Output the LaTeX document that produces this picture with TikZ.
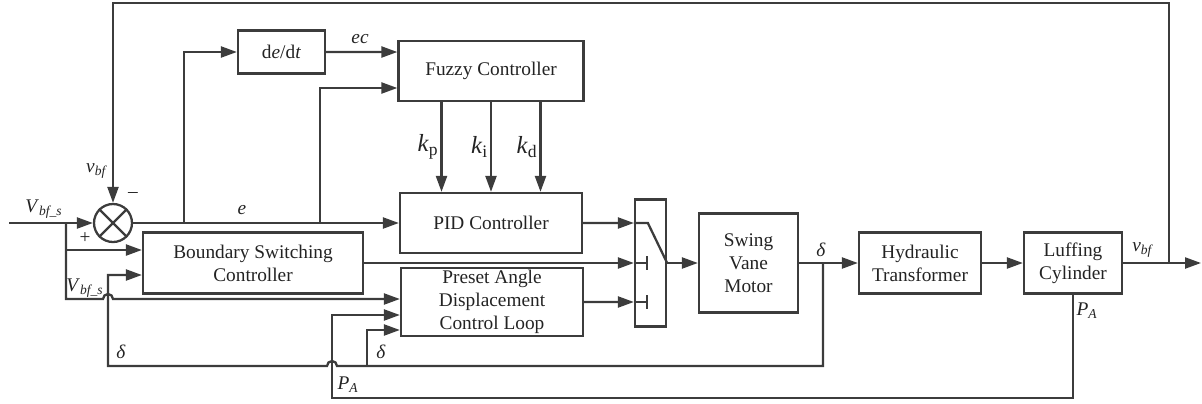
\documentclass[tikz,border=0pt]{standalone}
\usepackage{fontspec}
\setmainfont{Liberation Serif}
\usetikzlibrary{arrows.meta}

\definecolor{linegray}{RGB}{60,60,60}
\definecolor{textgray}{RGB}{35,35,35}

\newcommand{\vsub}[2]{\textit{#1}\textsubscript{\textit{#2}}}

\tikzset{
    block/.style={draw=linegray, line width=1.3pt, align=center, inner sep=0pt},
    sig/.style={->, line width=1.3pt, draw=linegray},
    wire/.style={line width=1.3pt, draw=linegray},
    lbl/.style={text=textgray, inner sep=1pt},
}

\begin{document}
\begin{tikzpicture}[x=0.02cm, y=-0.02cm, >={Triangle[length=0.32cm, width=0.22cm]},
    font=\fontsize{11}{13}\selectfont, text=textgray]
    \useasboundingbox (0,0) rectangle (1202,403);
    % blocks
    \node[block, minimum width=1.74cm, minimum height=0.86cm] (dedt) at (281.5, 52) {d\textit{e}/d\textit{t}};
    \node[block, minimum width=3.7cm, minimum height=1.2cm] (fuzzy) at (491, 71) {Fuzzy Controller};
    \node[block, minimum width=3.64cm, minimum height=1.2cm] (pid) at (491, 223) {PID Controller};
    \node[block, minimum width=4.4cm, minimum height=1.22cm] (bsc) at (253, 263) {Boundary Switching\\Controller};
    \node[block, minimum width=3.64cm, minimum height=1.36cm] (preset) at (492, 302) {Preset Angle\\Displacement\\Control Loop};
    \node[block, minimum width=0.62cm, minimum height=2.54cm] (sw) at (650.5, 263) {};
    \node[block, minimum width=1.98cm, minimum height=1.98cm] (swing) at (748.5, 263) {Swing\\Vane\\Motor};
    \node[block, minimum width=2.44cm, minimum height=1.22cm] (hydr) at (920, 263) {Hydraulic\\Transformer};
    \node[block, minimum width=1.96cm, minimum height=1.22cm] (luff) at (1073, 263) {Luffing\\Cylinder};
    \node[block, circle, minimum size=0.76cm] (sum) at (113, 223) {};
    \draw[wire] (sum.north west) -- (sum.south east) (sum.north east) -- (sum.south west);

    % branch points and ports
    \coordinate (in) at (9, 223);
    \coordinate (vsb) at (66, 223);
    \coordinate (eb1) at (184, 223);
    \coordinate (eb2) at (320, 223);
    \coordinate (db) at (823, 263);
    \coordinate (vb) at (1169, 263);
    \coordinate (out) at (1201, 263);
    \coordinate (fin1) at ([yshift=0.38cm]fuzzy.west);
    \coordinate (fin2) at ([yshift=-0.34cm]fuzzy.west);
    \coordinate (bin1) at ([yshift=0.26cm]bsc.west);
    \coordinate (bin2) at ([yshift=-0.24cm]bsc.west);
    \coordinate (pin1) at ([yshift=0.06cm]preset.west);
    \coordinate (pin2) at ([yshift=-0.26cm]preset.west);
    \coordinate (pin3) at ([yshift=-0.56cm]preset.west);
    \coordinate (s1) at ([yshift=0.8cm]sw.west);
    \coordinate (s3) at ([yshift=-0.78cm]sw.west);

    % forward path
    \draw[sig] (in) -- (sum.west);
    \draw[sig] (sum.east) -- (pid.west);
    \draw[sig] (eb1) |- (dedt.west);
    \draw[sig] (eb2) |- (fin2);
    \draw[sig] (dedt.east) -- (fin1);
    \foreach \dx/\sub in {-0.99cm/p, 0cm/i, 0.99cm/d}
        \draw[sig] ([xshift=\dx]fuzzy.south) -- ([xshift=\dx]pid.north)
            node[midway, left, lbl, font=\fontsize{14}{16}\selectfont] {\textit{k}\textsubscript{\fontsize{10}{12}\selectfont\sub}};
    \draw[sig] (vsb) |- (bin1);
    \draw[sig] (vsb) |- ++(37, 76) arc[start angle=180, end angle=0, radius=0.1cm] -- (pin1);
    \draw[sig] (pid.east) -- (s1);
    \draw[sig] (bsc.east) -- (sw.west);
    \draw[sig] (preset.east) -- (s3);
    \draw[sig] (sw.east) -- (swing.west);
    \draw[sig] (swing.east) -- (hydr.west);
    \draw[sig] (hydr.east) -- (luff.west);
    \draw[sig] (luff.east) -- (out);

    % switch contacts
    \draw[wire] (s1) -- ++(14, 0) -- (sw.east);
    \draw[wire] (sw.west) -- ++(13, 0) ++(0, -7) -- ++(0, 14);
    \draw[wire] (s3) -- ++(13, 0) ++(0, -7) -- ++(0, 14);

    % feedback paths
    \draw[sig] (vb) -- (1169, 3) -| (sum.north);
    \draw[sig] (db) -- (823, 366) -- (337, 366) arc[start angle=0, end angle=180, radius=0.1cm]
        -- (108, 366) |- (bin2);
    \draw[sig] (367, 366) |- (pin3);
    \draw[sig] (luff.south) -- (1073, 398) -- (332, 398) |- (pin2);

    % labels
    \node[lbl] (lvs1) at (44, 209) {\vsub{V}{bf\_s}};
    \node[lbl] (lplus) at (85, 238) {+};
    \node[lbl] (lminus) at (133, 195) {\textendash};
    \node[lbl] (lvbf1) at (97, 171) {\vsub{v}{bf}};
    \node[lbl] (le) at (242, 210) {\textit{e}};
    \node[lbl] (lec) at (360, 39) {\textit{ec}};
    \node[lbl] (lvs2) at (85, 288) {\vsub{V}{bf\_s}};
    \node[lbl] (ld1) at (121, 352) {\textit{δ}};
    \node[lbl] (ld2) at (381, 352) {\textit{δ}};
    \node[lbl] (lpa1) at (348, 385) {\vsub{P}{A}};
    \node[lbl] (ld3) at (821, 250) {\textit{δ}};
    \node[lbl] (lpa2) at (1087, 311) {\vsub{P}{A}};
    \node[lbl] (lvbf2) at (1143, 250) {\vsub{v}{bf}};
\end{tikzpicture}
\end{document}
